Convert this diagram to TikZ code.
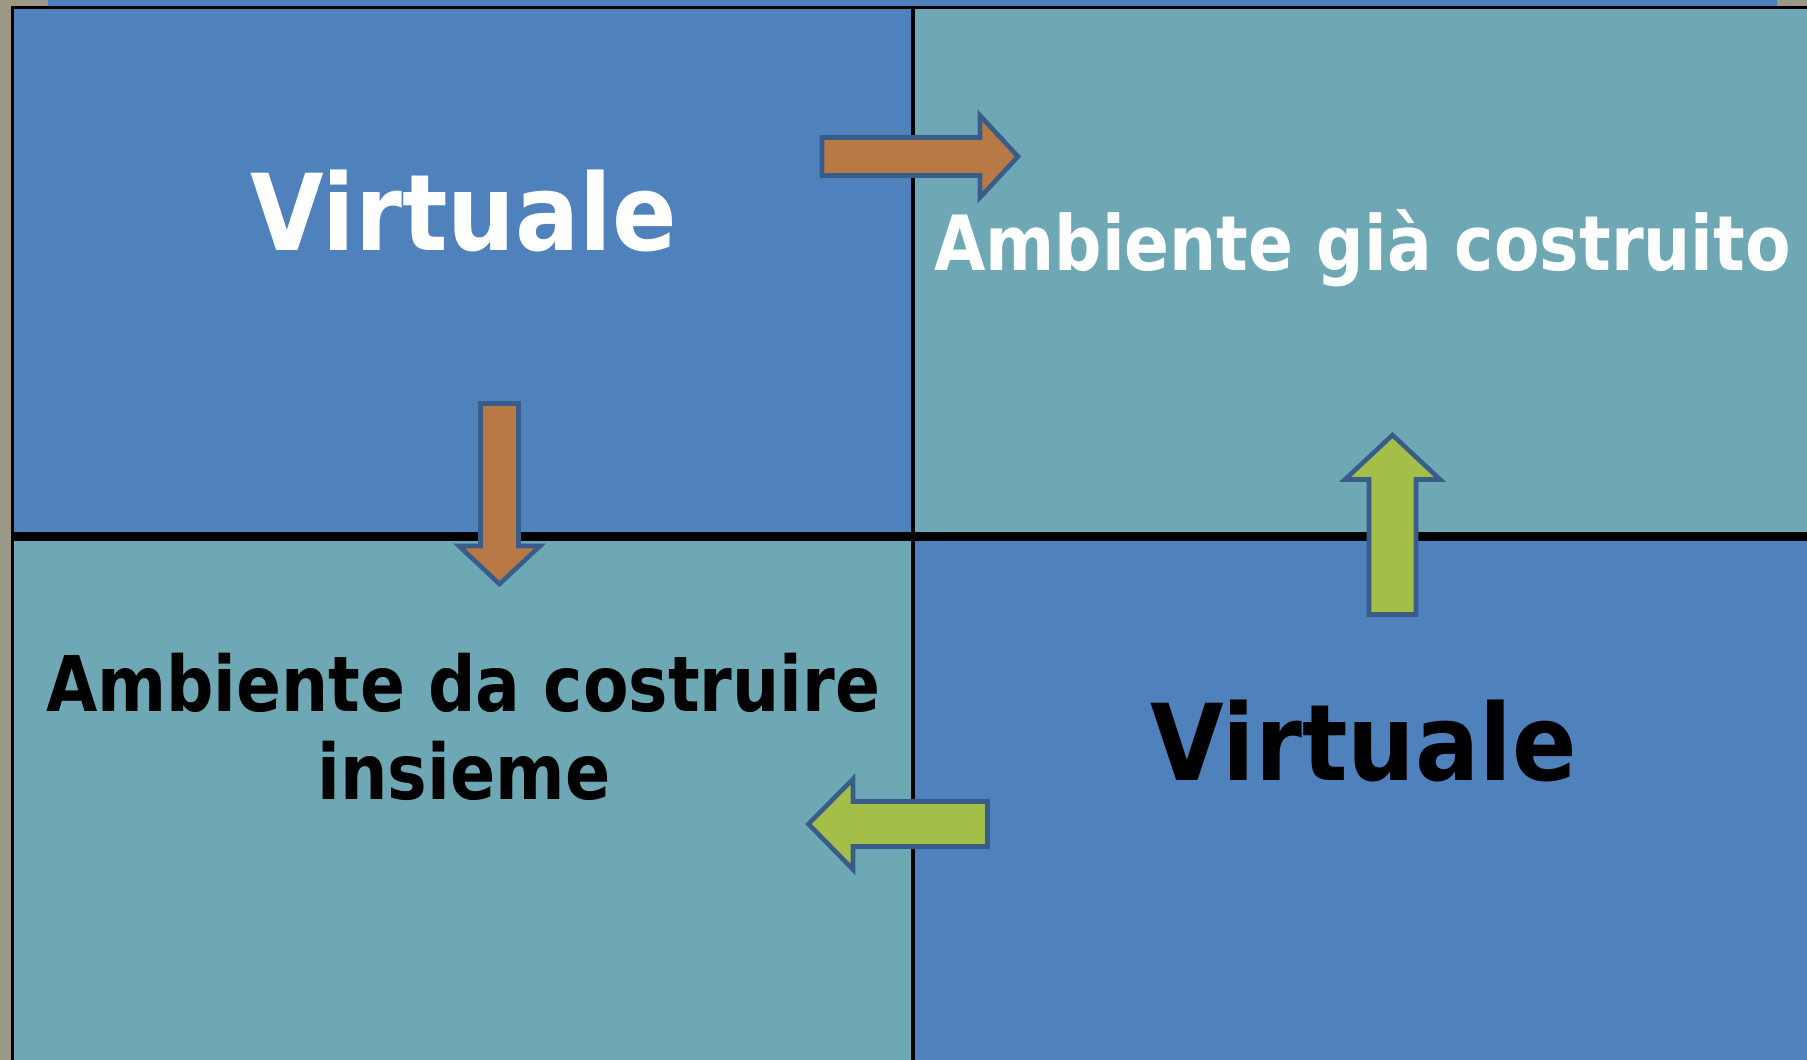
\documentclass[tikz,border=0pt]{standalone}
\usepackage{fontspec}
\usepackage{graphicx}
\newfontfamily\vfont{DejaVu Sans}
\definecolor{cellblue}{HTML}{4F81BD}
\definecolor{cellteal}{HTML}{6DA8B4}
\definecolor{edgegray}{HTML}{9C9886}
\definecolor{arrbrown}{HTML}{B97944}
\definecolor{arrgreen}{HTML}{A3BF47}
\definecolor{arredge}{HTML}{385D8A}
\newcommand\fitline[3]{\resizebox{#1pt}{#2pt}{\fontsize{100}{100}\selectfont\vfont\bfseries\raisebox{0pt}[72.9pt][0pt]{#3}}}
\begin{document}
\begin{tikzpicture}[x=1pt,y=-1pt,
  lbl/.style={inner sep=0pt,outer sep=0pt,anchor=base},
  blockarrow/.style={draw=arredge,line width=4.6pt,line join=miter}]
\useasboundingbox (0,0) rectangle (1807,1060);
% background strips
\fill[edgegray] (0,0) rectangle (1807,1060);
\fill[cellblue] (48,0) rectangle (1777,6);
% cells
\fill[cellblue] (14,9) rectangle (913,536);
\fill[cellteal] (913,9) rectangle (1807,536);
\fill[cellteal] (14,536) rectangle (913,1060);
\fill[cellblue] (913,536) rectangle (1807,1060);
% grid lines
\fill[black] (11,6) rectangle (1807,9);
\fill[black] (11,6) rectangle (14,1060);
\fill[black] (911,6) rectangle (915,1060);
\fill[black] (11,532) rectangle (1807,541);
% texts
\node[lbl,text=white] (v1) at (463.5,250) {\fitline{426}{77.3}{Virtuale}};
\node[lbl,text=black] (v2) at (1363.5,780) {\fitline{426}{77.3}{Virtuale}};
\node[lbl,text=white] (amb1) at (1362.5,270) {\fitline{857}{55.5}{Ambiente già costruito}};
\node[lbl,text=black] (amb2a) at (463,711) {\fitline{834}{56}{Ambiente da costruire}};
\node[lbl,text=black] (amb2b) at (464,799) {\fitline{293}{56}{insieme}};
% arrows
\filldraw[blockarrow,fill=arrbrown] (822,137.5) -- (980,137.5) -- (980,115.5) -- (1018,156.5) -- (980,197.5) -- (980,175.5) -- (822,175.5) -- cycle;
\filldraw[blockarrow,fill=arrbrown] (480.5,403.5) -- (518.5,403.5) -- (518.5,546) -- (540,546) -- (499.5,584) -- (459,546) -- (480.5,546) -- cycle;
\filldraw[blockarrow,fill=arrgreen] (1369,614.5) -- (1369,479.5) -- (1345,479.5) -- (1392.5,435) -- (1440,479.5) -- (1416,479.5) -- (1416,614.5) -- cycle;
\filldraw[blockarrow,fill=arrgreen] (987.5,801.5) -- (853,801.5) -- (853,779) -- (808.5,824) -- (853,869.5) -- (853,846.5) -- (987.5,846.5) -- cycle;
\end{tikzpicture}
\end{document}
